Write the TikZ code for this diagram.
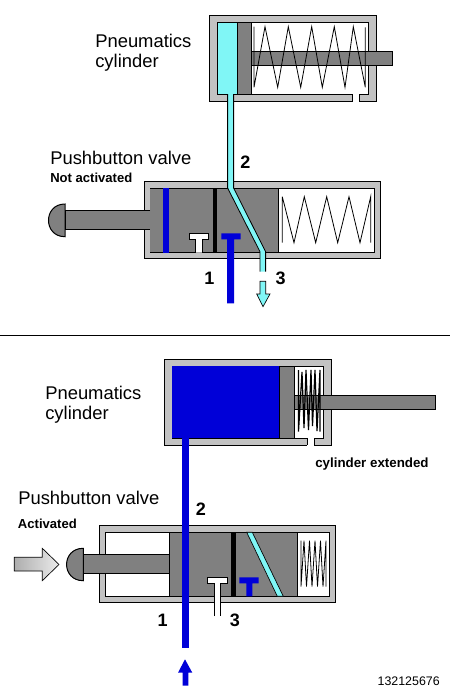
\documentclass[tikz,border=0pt]{standalone}
\usepackage{fontspec}
\setmainfont{Liberation Sans}
\definecolor{wallc}{HTML}{C2C2C2}
\definecolor{cyanc}{HTML}{80F6F6}
\definecolor{bluec}{HTML}{0000D8}
\definecolor{grayc}{HTML}{808080}
\tikzset{
  wall/.style={fill=wallc,draw=black,line width=0.75pt},
  cavity/.style={fill=white,draw=black,line width=0.75pt},
  part/.style={fill=grayc,draw=black,line width=0.75pt},
  edgeline/.style={draw=black,line width=0.6pt},
  coil/.style={draw=black,line width=0.6pt,line join=miter},
  densecoil/.style={draw=black,line width=0.9pt,line join=bevel},
  title/.style={font=\fontsize{13.8}{16}\selectfont,anchor=west,inner sep=0pt},
  note/.style={font=\fontsize{9.8}{12}\bfseries\selectfont,anchor=west,inner sep=0pt},
  portnum/.style={font=\fontsize{13.5}{16}\bfseries\selectfont,inner sep=0pt}
}
\begin{document}
\begin{tikzpicture}[x=0.75pt,y=-0.75pt]
\useasboundingbox (0,0) rectangle (450,700);
% ---------- upper cylinder
\draw[wall] (209.3,15.7) rectangle (376.7,101.3);
\draw[cavity] (217.3,22.7) rectangle (368.7,94);
\fill[white] (352.7,93) rectangle (359.3,101.8);
\draw[edgeline] (352.7,94) -- (352.7,101.3) (359.3,94) -- (359.3,101.3);
\draw[part] (251.7,51.3) rectangle (392.7,65.3);
\draw[coil] (254,26.7) -- (254,87.3) -- (265,26.7) -- (277.7,87.3) -- (288.3,26.7) -- (300.7,87.3) -- (311.7,26.7) -- (322.3,87.3) -- (334.3,26.7) -- (345,87.3) -- (353.3,26.7) -- (365.3,87.3) -- (365.3,27.3);
\fill[cyanc] (217.8,23.2) rectangle (237.3,93.5);
\draw[part] (237.3,22.7) rectangle (251.7,94);
% ---------- upper valve
\draw[wall] (144.3,181.3) rectangle (380.7,258.3);
\draw[cavity] (150,188.3) rectangle (374.7,252.7);
\fill[grayc] (150.4,188.7) rectangle (278.3,252.3);
\draw[edgeline] (278.3,188.3) -- (278.3,252.7);
\draw[coil] (282.3,196.7) -- (282.3,242.7) (282.3,196.7) -- (294,242.7) -- (304.3,196.7) -- (315.7,242.7) -- (326.7,196.7) -- (337.7,242.7) -- (349,196.7) -- (360,242.7) -- (370.7,196.7) -- (370.7,242.7);
\fill[bluec] (163.3,188.3) rectangle (169.3,252.7);
\fill[black] (213.3,188.3) rectangle (217,252.7);
\draw[fill=white,draw=black,line width=0.5pt] (195.7,252.7) -- (195.7,239.3) -- (189.3,239.3) -- (189.3,233.3) -- (208.3,233.3) -- (208.3,239.3) -- (202.3,239.3) -- (202.3,252.7);
\fill[bluec] (227,303.3) -- (227,239.3) -- (221.3,239.3) -- (221.3,233.3) -- (240.7,233.3) -- (240.7,239.3) -- (234,239.3) -- (234,303.3) -- cycle;
% pushbutton
\draw[part] (150,210) -- (65,210) -- (65,229.3) -- (150,229.3);
\draw[part] (65,204) .. controls (43,204) and (43,236.7) .. (65,236.7) -- cycle;
% upper air line
\fill[cyanc] (228,92.5) -- (228,188) -- (260,251.7) -- (260,271.7) -- (265.3,271.7) -- (265.3,251.7) -- (233.3,188) -- (233.3,92.5) -- cycle;
\draw[edgeline] (227.6,94) -- (227.6,188) -- (260,251.7) -- (260,271.7) (233.6,94) -- (233.6,188) -- (265.6,251.7) -- (265.6,271.7);
\draw[fill=cyanc,draw=black,line width=0.5pt] (260,281.3) -- (265.7,281.3) -- (265.7,294) -- (270,294) -- (263,306.7) -- (256.7,294) -- (260,294) -- cycle;
% divider
\coordinate (divL) at (0,335);
\coordinate (divR) at (450,335);
\draw[black,line width=0.75pt] (divL) -- (divR);
% ---------- lower cylinder
\draw[wall] (164.7,359.3) rectangle (331.7,445.3);
\draw[cavity] (172.3,366) rectangle (323.7,438);
\fill[white] (307.3,437) rectangle (314.3,445.8);
\draw[edgeline] (307.3,438) -- (307.3,445.3) (314.3,438) -- (314.3,445.3);
\draw[part] (294.7,395.3) rectangle (435.7,409.7);
\draw[densecoil] (298.5,370) -- (298.5,431.7) -- (302,372) -- (304,428) -- (306,370) -- (308.5,430) -- (311,370) -- (312.5,426) -- (315,370) -- (317,431) -- (320,370) -- (320,431.7);
\fill[bluec] (172.3,366) rectangle (279.3,438);
\draw[part] (279.3,366) rectangle (294.7,438);
% ---------- lower valve
\draw[wall] (99.3,525.3) rectangle (335.3,602.3);
\draw[cavity] (105.3,532.3) rectangle (329.3,596.3);
\fill[grayc] (169.3,532.7) rectangle (297.3,595.9);
\draw[edgeline] (169.3,532.3) -- (169.3,596.3) (297.3,532.3) -- (297.3,596.3);
\draw[coil] (301,540.7) -- (301,586.7) -- (304,540.7) -- (306.5,586.7) -- (309.5,540.7) -- (312,586.7) -- (315,540.7) -- (317.5,586.7) -- (320.5,540.7) -- (323,586.7) -- (326,540.7) -- (326,586.7);
\fill[black] (231,532.3) rectangle (236,596.3);
\draw[fill=cyanc,draw=black,line width=0.5pt] (246.7,532.3) -- (252.3,532.3) -- (283.3,596.3) -- (277.3,596.3) -- cycle;
\draw[fill=white,draw=black,line width=0.5pt] (214,616) -- (214,583.3) -- (207.3,583.3) -- (207.3,577.3) -- (227.7,577.3) -- (227.7,583.3) -- (220.7,583.3) -- (220.7,616);
\fill[bluec] (246.3,596.3) -- (246.3,583.3) -- (239.3,583.3) -- (239.3,577.3) -- (258.7,577.3) -- (258.7,583.3) -- (252.3,583.3) -- (252.3,596.3) -- cycle;
% pushbutton
\draw[part] (169.3,554.3) -- (83.3,554.3) -- (83.3,573.3) -- (169.3,573.3);
\draw[part] (83.3,548.3) .. controls (61,548.3) and (61,580.7) .. (83.3,580.7) -- cycle;
% pressure line
\fill[bluec] (182.3,436.5) rectangle (188.7,647.7);
% force arrow
\draw[left color=black!32,right color=black!8,draw=black,line width=0.5pt] (14.3,557.3) -- (42.3,557.3) -- (42.3,548.3) -- (59,564.5) -- (42.3,580.7) -- (42.3,571) -- (14.3,571) -- cycle;
% supply arrow
\fill[bluec] (182.7,685.7) -- (182.7,672.7) -- (178,672.7) -- (185,659.3) -- (192.3,672.7) -- (188.3,672.7) -- (188.3,685.7) -- cycle;
% ---------- texts
\node[title] (t1) at (95,41) {Pneumatics};
\node[title] (t2) at (95,63) {cylinder};
\node[title] (t3) at (50,158) {Pushbutton valve};
\node[note] (t4) at (50,178) {Not activated};
\node[portnum] (n2a) at (245.5,162.7) {2};
\node[portnum] (n1a) at (209.5,278) {1};
\node[portnum] (n3a) at (280.7,278) {3};
\node[title] (t5) at (45,393) {Pneumatics};
\node[title] (t6) at (45,415) {cylinder};
\node[note,font=\fontsize{10}{12}\bfseries\selectfont] (t7) at (315,464) {cylinder extended};
\node[title] (t8) at (18,498) {Pushbutton valve};
\node[note] (t9) at (17.7,524) {Activated};
\node[portnum] (n2b) at (201,509) {2};
\node[portnum] (n1b) at (162.7,620) {1};
\node[portnum] (n3b) at (235,620) {3};
\node[font=\fontsize{9.3}{11}\selectfont,anchor=east,inner sep=0pt] (id) at (440,681) {132125676};
\end{tikzpicture}
\end{document}
